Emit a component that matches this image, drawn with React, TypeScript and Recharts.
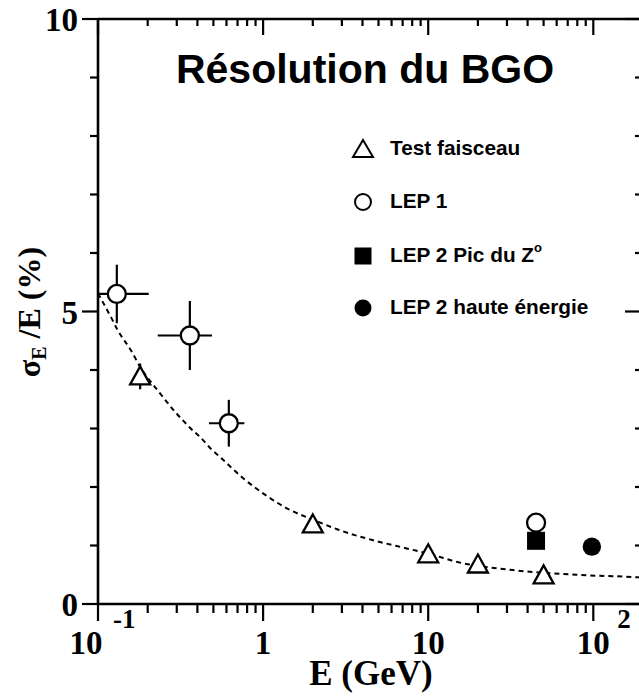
import React from 'react';
import { ComposedChart, XAxis, YAxis, Scatter, Line, ErrorBar, Legend } from 'recharts';

// ---- data ----
const TEST_E = [0.18, 2, 10, 20, 50];
const TEST_RES = [3.89, 1.36, 0.85, 0.675, 0.49];
const TEST_ERR = [0.22, 0, 0, 0, 0];

const LEP1_E = [0.13, 0.36, 0.62, 45];
const LEP1_RES = [5.3, 4.59, 3.09, 1.39];
const LEP1_ERR_E: [number, number][] = [[0.03, 0.073], [0.13, 0.13], [0.15, 0.15], [0, 0]];
const LEP1_ERR_RES = [0.5, 0.59, 0.4, 0];

const LEP2Z_E = [45];
const LEP2Z_RES = [1.08];

const LEP2H_E = [98];
const LEP2H_RES = [0.98];

const CURVE_E = [0.1, 0.12, 0.1316, 0.158, 0.182, 0.23, 0.29, 0.384, 0.413, 0.484, 0.545, 0.757, 1.05, 1.45, 2.01, 2.92, 4.64, 7.4, 10.7, 14.2, 32.7, 83, 187, 200];
const CURVE_RES = [5.31, 4.9, 4.68, 4.34, 4.03, 3.65, 3.3, 2.94, 2.86, 2.65, 2.52, 2.15, 1.85, 1.61, 1.44, 1.26, 1.09, 0.95, 0.84, 0.735, 0.58, 0.496, 0.456, 0.45];

const X_TICKS = [0.1, 0.2, 0.3, 0.4, 0.5, 0.6, 0.7, 0.8, 0.9, 1, 2, 3, 4, 5, 6, 7, 8, 9, 10, 20, 30, 40, 50, 60, 70, 80, 90, 100];
const X_MAJOR = [0.1, 1, 10, 100];
const X_LABEL_BASE = ['10', '1', '10', '10'];
const X_LABEL_EXP = ['-1', '', '', '2'];

const Y_TICKS = [0, 1, 2, 3, 4, 5, 6, 7, 8, 9, 10];
const Y_MAJOR = [0, 5, 10];
const Y_LABELS = ['0', '5', '10'];

const LEGEND_NAMES = ['Test faisceau', 'LEP 1', 'LEP 2 Pic du Z', 'LEP 2 haute énergie'];

const testData = TEST_E.map((x, i) => ({ x, y: TEST_RES[i], ey: TEST_ERR[i] }));
const lep1Data = LEP1_E.map((x, i) => ({ x, y: LEP1_RES[i], ex: LEP1_ERR_E[i], ey: LEP1_ERR_RES[i] }));
const lep2zData = LEP2Z_E.map((x, i) => ({ x, y: LEP2Z_RES[i] }));
const lep2hData = LEP2H_E.map((x, i) => ({ x, y: LEP2H_RES[i] }));
const curveData = CURVE_E.map((x, i) => ({ x, y: CURVE_RES[i] }));

const SERIF = '"Liberation Serif", "Times New Roman", serif';
const SANS = '"Liberation Sans", Arial, Helvetica, sans-serif';

// ---- marker shapes ----
const Triangle = (p: any) => {
  const { cx, cy } = p;
  if (cx == null || cy == null) return null;
  return <path d={`M${cx},${cy - 10} L${cx + 10},${cy + 8} L${cx - 10},${cy + 8} Z`} fill="#fff" stroke="#000" strokeWidth={2.3} strokeLinejoin="miter" />;
};
const OpenCircle = (p: any) => {
  const { cx, cy } = p;
  if (cx == null || cy == null) return null;
  return <circle cx={cx} cy={cy} r={9} fill="#fff" stroke="#000" strokeWidth={2.3} />;
};
const FilledSquare = (p: any) => {
  const { cx, cy } = p;
  if (cx == null || cy == null) return null;
  return <rect x={cx - 9} y={cy - 9} width={18} height={18} fill="#000" />;
};
const FilledCircle = (p: any) => {
  const { cx, cy } = p;
  if (cx == null || cy == null) return null;
  return <circle cx={cx} cy={cy} r={9.2} fill="#000" />;
};

// ---- ticks ----
const BottomTick = (props: any) => {
  const { x, y, payload } = props;
  const v = payload.value;
  const mi = X_MAJOR.findIndex((m) => Math.abs(m - v) < 1e-9);
  const major = mi >= 0;
  const base = major ? X_LABEL_BASE[mi] : '';
  const exp = major ? X_LABEL_EXP[mi] : '';
  const shift = exp === '-1' ? -12 : 0;
  return (
    <g>
      <line x1={x} x2={x} y1={y} y2={y + (major ? 17 : 9)} stroke="#000" strokeWidth={2.2} />
      {major && (
        <text x={x + shift} y={y + 50} textAnchor="middle" fontFamily={SERIF} fontWeight="bold" fontSize={33} fill="#000">
          {base}
        </text>
      )}
      {major && exp && (
        <text x={x + shift + (exp === '-1' ? 27 : 24)} y={y + 24} textAnchor="start" fontFamily={SERIF} fontWeight="bold" fontSize={27} fill="#000">
          {exp}
        </text>
      )}
    </g>
  );
};

const TopTick = (props: any) => {
  const { x, y, payload } = props;
  const major = X_MAJOR.some((m) => Math.abs(m - payload.value) < 1e-9);
  return <line x1={x} x2={x} y1={y} y2={y + (major ? 16 : 7)} stroke="#000" strokeWidth={2.2} />;
};

const LeftTick = (props: any) => {
  const { x, y, payload } = props;
  const mi = Y_MAJOR.indexOf(payload.value);
  const major = mi >= 0;
  return (
    <g>
      <line x1={x - (major ? 16 : 8)} x2={x} y1={y} y2={y} stroke="#000" strokeWidth={2.2} />
      {major && (
        <text x={x - 20} y={y + 12} textAnchor="end" fontFamily={SERIF} fontWeight="bold" fontSize={33} fill="#000">
          {Y_LABELS[mi]}
        </text>
      )}
    </g>
  );
};

const RightTick = (props: any) => {
  const { x, y, payload } = props;
  const major = Y_MAJOR.includes(payload.value);
  return <line x1={x - (major ? 18 : 8)} x2={x} y1={y} y2={y} stroke="#000" strokeWidth={2.2} />;
};

// ---- legend ----
const LEGEND_SYMBOLS = [
  (cx: number, cy: number) => <path d={`M${cx},${cy - 9} L${cx + 10},${cy + 8} L${cx - 10},${cy + 8} Z`} fill="#fff" stroke="#000" strokeWidth={2} />,
  (cx: number, cy: number) => <circle cx={cx} cy={cy} r={8} fill="#fff" stroke="#000" strokeWidth={2} />,
  (cx: number, cy: number) => <rect x={cx - 8.5} y={cy - 8.5} width={17} height={17} fill="#000" />,
  (cx: number, cy: number) => <circle cx={cx} cy={cy} r={8.5} fill="#000" />,
];

const renderLegend = () => (
  <svg width={290} height={200} style={{ display: 'block' }}>
    {LEGEND_NAMES.map((name, i) => {
      const cy = [19, 72, 126, 178][i];
      return (
        <g key={name}>
          {LEGEND_SYMBOLS[i](23, cy)}
          <text x={50} y={cy + 6} fontFamily={SANS} fontWeight="bold" fontSize={20.8} fill="#000">
            {name}
            {i === 2 && (
              <tspan fontSize={13} dy={-10}>o</tspan>
            )}
          </text>
        </g>
      );
    })}
  </svg>
);

export default function App() {
  return (
    <div style={{ position: 'absolute', left: 0, top: 0, width: 639, height: 698, overflow: 'hidden', background: '#fff' }}>
      <ComposedChart width={660} height={698} margin={{ top: 18, right: 16, bottom: 93, left: 97 }}>
        <XAxis
          xAxisId="b"
          dataKey="x"
          type="number"
          scale="log"
          domain={[0.1, 200]}
          allowDataOverflow
          ticks={X_TICKS}
          interval={0}
          height={1}
          tickSize={0}
          tickMargin={0}
          tickLine={false}
          axisLine={{ stroke: '#000', strokeWidth: 2.6 }}
          tick={(p: any) => <BottomTick {...p} />}
        />
        <XAxis
          xAxisId="t"
          orientation="top"
          dataKey="x"
          type="number"
          scale="log"
          domain={[0.1, 200]}
          allowDataOverflow
          ticks={X_TICKS}
          interval={0}
          height={1}
          tickSize={0}
          tickMargin={0}
          tickLine={false}
          axisLine={{ stroke: '#000', strokeWidth: 2.6 }}
          tick={(p: any) => <TopTick {...p} />}
        />
        <YAxis
          yAxisId="l"
          type="number"
          domain={[0, 10]}
          allowDataOverflow
          ticks={Y_TICKS}
          interval={0}
          width={1}
          tickSize={0}
          tickMargin={0}
          tickLine={false}
          axisLine={{ stroke: '#000', strokeWidth: 2.6 }}
          tick={(p: any) => <LeftTick {...p} />}
        />
        <YAxis
          yAxisId="r"
          orientation="right"
          type="number"
          domain={[0, 10]}
          allowDataOverflow
          ticks={Y_TICKS}
          interval={0}
          width={1}
          tickSize={0}
          tickMargin={0}
          tickLine={false}
          axisLine={{ stroke: '#000', strokeWidth: 2.6 }}
          tick={(p: any) => <RightTick {...p} />}
        />
        <Scatter name={LEGEND_NAMES[0]} xAxisId="b" yAxisId="l" data={testData} dataKey="y" shape={Triangle} isAnimationActive={false}>
          <ErrorBar dataKey="ey" direction="y" width={0} stroke="#000" strokeWidth={2.2} />
        </Scatter>
        <Scatter name={LEGEND_NAMES[1]} xAxisId="b" yAxisId="l" data={lep1Data} dataKey="y" shape={OpenCircle} isAnimationActive={false}>
          <ErrorBar dataKey="ex" direction="x" width={0} stroke="#000" strokeWidth={2.2} />
          <ErrorBar dataKey="ey" direction="y" width={0} stroke="#000" strokeWidth={2.2} />
        </Scatter>
        <Scatter name={LEGEND_NAMES[2]} xAxisId="b" yAxisId="l" data={lep2zData} dataKey="y" shape={FilledSquare} isAnimationActive={false} />
        <Scatter name={LEGEND_NAMES[3]} xAxisId="b" yAxisId="l" data={lep2hData} dataKey="y" shape={FilledCircle} isAnimationActive={false} />
        <Line
          xAxisId="b"
          yAxisId="l"
          data={curveData}
          dataKey="y"
          type="monotone"
          dot={false}
          activeDot={false}
          stroke="#000"
          strokeWidth={2}
          strokeDasharray="5 4"
          legendType="none"
          isAnimationActive={false}
        />
        <Legend
          layout="vertical"
          align="center"
          verticalAlign="middle"
          width={290}
          height={200}
          wrapperStyle={{ left: 340, top: 130, width: 290, height: 200 }}
          content={renderLegend}
        />
      </ComposedChart>
      <svg width={639} height={698} style={{ position: 'absolute', left: 0, top: 0, pointerEvents: 'none' }}>
        <text x={365} y={83} textAnchor="middle" fontFamily={SANS} fontWeight="bold" fontSize={41} fill="#000">
          Résolution du BGO
        </text>
        <text x={371} y={685} textAnchor="middle" fontFamily={SERIF} fontWeight="bold" fontSize={35} fill="#000">
          E (GeV)
        </text>
        <text transform="translate(40,312) rotate(-90)" textAnchor="middle" fontFamily={SERIF} fontWeight="bold" fontSize={32} fill="#000">
          σ<tspan fontSize={20} dy={6}>E</tspan>
          <tspan dy={-6}> /E (%)</tspan>
        </text>
      </svg>
    </div>
  );
}
